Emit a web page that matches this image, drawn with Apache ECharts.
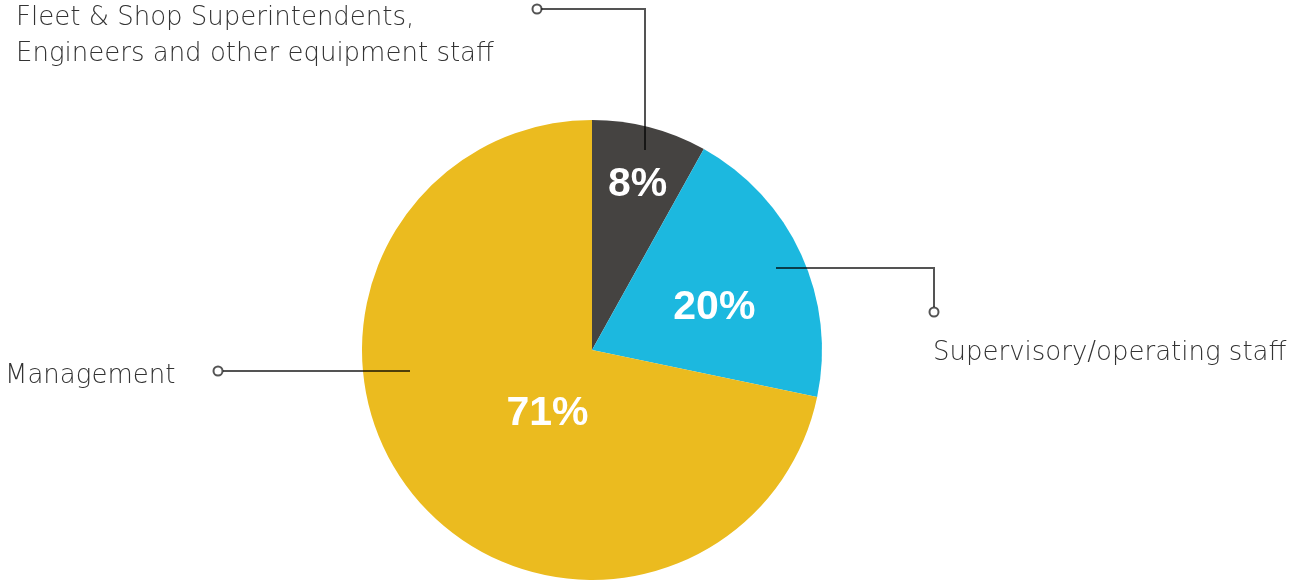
<!DOCTYPE html>
<html>
<head>
<meta charset="utf-8">
<script src="https://cdn.jsdelivr.net/npm/echarts@6/dist/echarts.min.js"></script>
<style>
  html, body { margin: 0; padding: 0; background: #fff; }
  #chart { width: 1289px; height: 580px; }
</style>
</head>
<body>
<div id="chart"></div>
<script>
// slice names and shares (%)
const names = ['Fleet & Shop Superintendents,\nEngineers and other equipment staff', 'Supervisory/operating staff', 'Management'];
const values = [8, 20, 71];
const colors = ['#454341', '#1cb8df', '#ebbb1f'];
// nudges of the inside percentage labels
const labelOffsets = [[16, -51], [15, 7], [47, -11]];

const lineColor = 'rgba(0,0,0,0.67)';
const textFont = { fontFamily: 'DejaVu Sans', fontWeight: 200, fontSize: 26, fill: '#333' };

let chart = echarts.init(document.getElementById('chart'));

function leader(points, end) {
  return [{
    type: 'polyline',
    shape: { points: points },
    style: { stroke: lineColor, lineWidth: 2, fill: null },
    z: 10
  }, {
    type: 'circle',
    shape: { cx: end[0], cy: end[1], r: 4.5 },
    style: { stroke: lineColor, lineWidth: 2, fill: '#fff' },
    z: 11
  }];
}

let option = {
  animation: false,
  series: [{
    type: 'pie',
    center: [592, 350],
    radius: [0, 230],
    startAngle: 90,
    clockwise: true,
    label: {
      show: true,
      position: 'inside',
      formatter: '{c}%',
      color: '#fff',
      fontFamily: 'Liberation Sans',
      fontWeight: 'bold',
      fontSize: 41
    },
    labelLine: { show: false },
    emphasis: { disabled: true },
    data: values.map((v, i) => ({
      name: names[i],
      value: v,
      itemStyle: { color: colors[i] },
      label: { offset: labelOffsets[i] }
    }))
  }],
  graphic: [].concat(
    leader([[645, 150], [645, 9], [541, 9]], [537, 9]),
    leader([[776, 268], [934, 268], [934, 307]], [934, 312]),
    leader([[410, 371], [223, 371]], [218, 371]),
    [{
      type: 'text', left: 16, top: 0,
      style: Object.assign({ text: names[0], lineHeight: 36 }, textFont)
    }, {
      type: 'text', x: 933, y: 353,
      style: Object.assign({ text: names[1], verticalAlign: 'middle' }, textFont)
    }, {
      type: 'text', x: 5, y: 376,
      style: Object.assign({ text: names[2], verticalAlign: 'middle' }, textFont)
    }]
  )
};
chart.setOption(option);
</script>
</body>
</html>
